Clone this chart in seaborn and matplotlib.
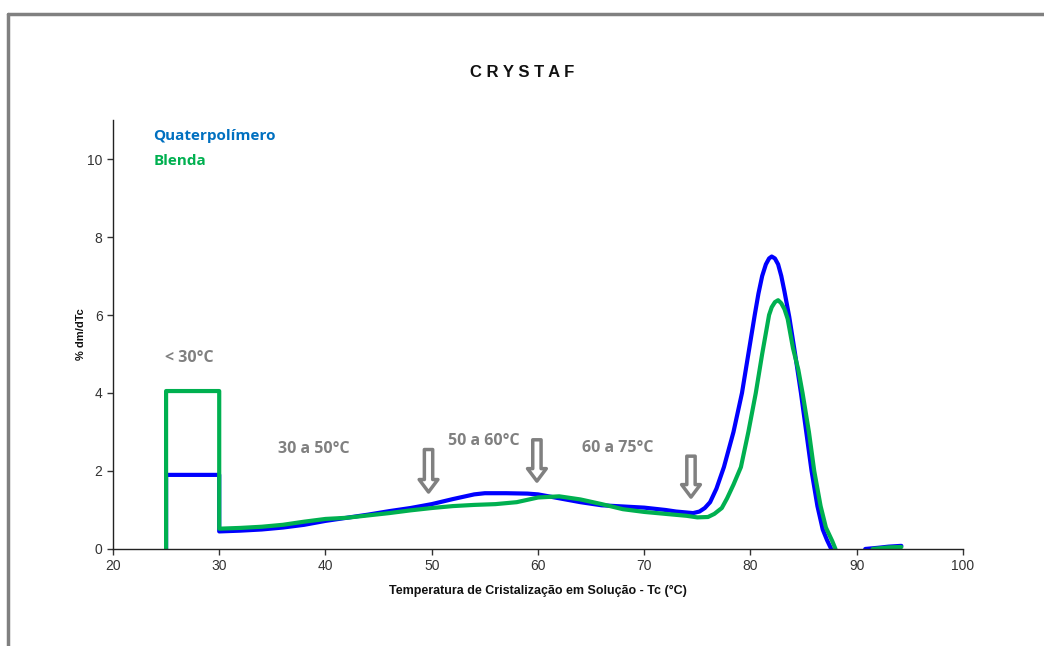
import pandas as pd
import matplotlib.pyplot as plt
import seaborn as sns
from matplotlib.lines import Line2D

# Curve values (Tc in °C, % dm/dTc)
quater_x = [25, 25, 30, 30, 32, 34, 36, 38, 40, 42, 44, 46, 48, 50, 52, 54, 55, 57, 59, 60,
            62, 64, 66, 68, 70, 72, 73, 74.6, 75.2, 75.7, 76.2, 76.8, 77.5, 78.4, 79.2, 79.8, 80.4,
            80.75, 81.1, 81.45, 81.75, 82.0, 82.3, 82.6, 82.9, 83.2, 83.65, 84.2, 84.75, 85.25, 85.75,
            86.3, 86.8, 87.2, 87.6]
quater_y = [0, 1.9, 1.9, 0.45, 0.47, 0.5, 0.55, 0.62, 0.72, 0.8, 0.88, 0.97, 1.05, 1.15, 1.28, 1.4, 1.43, 1.43, 1.42, 1.4,
            1.3, 1.2, 1.12, 1.09, 1.06, 1.0, 0.96, 0.92, 0.96, 1.05, 1.2, 1.55, 2.1, 3.0, 4.0, 5.0, 6.0,
            6.55, 7.0, 7.3, 7.45, 7.5, 7.45, 7.3, 7.0, 6.6, 5.95, 5.0, 4.0, 3.0, 2.0,
            1.1, 0.5, 0.23, 0.0]
quater_tail_x = [90.8, 92.0, 93.0, 94.2]
quater_tail_y = [0.0, 0.03, 0.06, 0.08]

blenda_x = [25, 25, 30, 30, 32, 34, 36, 38, 40, 42, 44, 46, 48, 50, 52, 54, 56, 58, 60,
            62, 64, 66, 68, 70, 72, 74, 75, 76, 76.6, 77.3, 77.8, 78.4, 79.1, 79.8, 80.5, 81.1,
            81.75, 82.0, 82.3, 82.6, 82.9, 83.2, 83.5, 84.0, 84.5, 84.9, 85.5, 86.0, 86.6, 87.1,
            87.7, 88.0]
blenda_y = [0, 4.05, 4.05, 0.52, 0.54, 0.57, 0.62, 0.7, 0.77, 0.8, 0.86, 0.92, 0.99, 1.05, 1.1, 1.13, 1.15, 1.2, 1.32,
            1.35, 1.27, 1.15, 1.02, 0.95, 0.9, 0.85, 0.81, 0.82, 0.9, 1.05, 1.3, 1.65, 2.1, 3.0, 4.0, 5.0,
            6.0, 6.2, 6.33, 6.38, 6.3, 6.15, 5.9, 5.15, 4.6, 4.0, 3.0, 2.0, 1.1, 0.55,
            0.2, 0.0]
blenda_tail_x = [91.5, 93.0, 94.2]
blenda_tail_y = [0.0, 0.04, 0.05]

series_names = ["Quaterpolímero", "Blenda"]
line_colors = ["#0000FF", "#00B050"]
label_colors = ["#0070C0", "#00B050"]

ranges = ["< 30°C", "30 a 50°C", "50 a 60°C", "60 a 75°C"]
arrow_x = [49.7, 59.9, 74.4]

rows = []
for name, seg, xs, ys in [(series_names[0], "a", quater_x, quater_y),
                          (series_names[0], "b", quater_tail_x, quater_tail_y),
                          (series_names[1], "c", blenda_x, blenda_y),
                          (series_names[1], "d", blenda_tail_x, blenda_tail_y)]:
    for order, (x, y) in enumerate(zip(xs, ys)):
        rows.append({"serie": name, "seg": seg, "ordem": order, "Tc": x, "dm": y})
df = pd.DataFrame(rows)

sns.set_style("ticks")
plt.rcParams['font.family'] = ['Liberation Sans', 'DejaVu Sans']

fig = plt.figure(figsize=(10.44, 6.46), dpi=100)
ax = fig.add_axes([0.1082, 0.1502, 0.8142, 0.6640])

sns.lineplot(data=df, x="Tc", y="dm", hue="serie", units="seg", estimator=None, sort=False,
             palette=dict(zip(series_names, line_colors)), linewidth=3, legend=False, ax=ax)
for ln in ax.lines:
    ln.set_solid_joinstyle("round")
    ln.set_solid_capstyle("round")

ax.set_xlim(20, 100)
ax.set_ylim(0, 11)
ax.set_xticks(range(20, 101, 10))
ax.set_yticks(range(0, 11, 2))
ax.tick_params(labelsize=10, colors="#333333", length=4, width=1)
for s in ["left", "bottom"]:
    ax.spines[s].set_color("#222222")
    ax.spines[s].set_linewidth(1)
sns.despine(ax=ax)

ax.set_xlabel("Temperatura de Cristalização em Solução - Tc (°C)", fontsize=9, fontweight="bold",
              color="#111111", labelpad=8)
ax.set_ylabel("% dm/dTc", fontsize=8, fontweight="bold", color="#111111", labelpad=1)

fig.text(0.500, 0.888, "C R Y S T A F", ha="center", va="center", fontsize=12, fontweight="bold",
         color="#111111")

# legend as coloured text
for i, name in enumerate(series_names):
    ax.text(23.8, 10.6 - i * 0.65, name, color=label_colors[i], fontsize=11, fontweight="bold",
            family=["Open Sans", "DejaVu Sans"], ha="left", va="center")

# range labels
range_pos = [(24.9, 4.9), (35.5, 2.57), (51.5, 2.78), (64.1, 2.6)]
for txt, (x, y) in zip(ranges, range_pos):
    ax.text(x, y, txt, color="#808080", fontsize=11.5, fontweight="bold",
            family=["Open Sans", "DejaVu Sans"], ha="left", va="center")

# hollow grey arrows
arrow_tops = [2.55, 2.8, 2.38]
arrow_bots = [1.46, 1.74, 1.33]
for x, yt, yb in zip(arrow_x, arrow_tops, arrow_bots):
    ax.annotate("", xy=(x, yb), xytext=(x, yt),
                arrowprops=dict(arrowstyle="simple,head_length=0.9,head_width=1.35,tail_width=0.6",
                                fc="white", ec="#808080", lw=2.5, shrinkA=0, shrinkB=0))

# grey frame around the chart area
fig.add_artist(Line2D([0.008, 1.0], [0.979, 0.979], color="#808080", lw=2.5, transform=fig.transFigure))
fig.add_artist(Line2D([0.008, 0.008], [0.0, 0.979], color="#808080", lw=2.5, transform=fig.transFigure))

fig.savefig("out.png", dpi=100, facecolor="white")
